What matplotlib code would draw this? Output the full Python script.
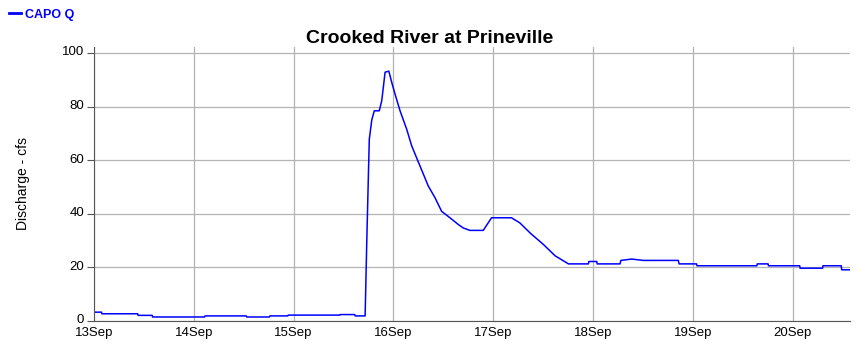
from datetime import datetime, timedelta
import matplotlib
matplotlib.use('Agg')
from matplotlib import pyplot as plt
import matplotlib.dates as mdates
import matplotlib.transforms as mtransforms

# Hours since 13 Sep 00:00 and discharge (cfs)
hours = [0.0, 1.8, 1.9, 10.5, 10.6, 14.0, 14.1, 26.6, 26.7, 36.6, 36.7,
         42.2, 42.3, 46.6, 46.7, 59.1, 59.2, 62.7, 62.8, 65.2,
         65.6, 66.2, 66.8, 67.4, 68.6, 69.2, 70.0, 70.9, 71.6, 72.4,
         73.6, 75.2, 76.4, 78.4, 80.4, 82.0, 83.6, 85.6, 87.6, 88.8,
         90.4, 93.6, 95.6, 100.4, 102.4, 104.9, 108.1, 110.9, 114.1,
         118.9, 119.0, 120.9, 121.0, 126.5, 126.7, 129.3, 132.1, 140.5,
         140.7, 144.9, 145.0, 159.4, 159.5, 162.1, 162.2, 169.7, 169.8,
         175.2, 175.3, 179.7, 179.8, 181.8]
flow = [3.3, 3.3, 2.7, 2.7, 2.1, 2.1, 1.5, 1.5, 1.9, 1.9, 1.5,
        1.5, 1.9, 1.9, 2.2, 2.2, 2.4, 2.4, 1.9, 1.9,
        30.0, 67.8, 75.0, 78.4, 78.4, 82.2, 92.8, 93.2, 89.0, 84.6,
        78.4, 71.5, 65.3, 57.8, 50.3, 46.0, 40.9, 38.5, 36.0, 34.7,
        33.8, 33.8, 38.5, 38.5, 36.6, 32.8, 28.5, 24.3, 21.3,
        21.3, 22.2, 22.2, 21.3, 21.3, 22.6, 23.1, 22.6, 22.6,
        21.3, 21.3, 20.6, 20.6, 21.3, 21.3, 20.6, 20.6, 19.7,
        19.7, 20.6, 20.6, 19.1, 19.1]

start = datetime(2023, 9, 13)
dates = [start + timedelta(hours=h) for h in hours]
day_ticks = [start + timedelta(days=d) for d in range(8)]

plt.rcParams['font.family'] = ['Liberation Sans', 'DejaVu Sans']

fig = plt.figure(figsize=(8.6, 3.46), dpi=100)
ax = fig.add_axes([94 / 860, 25 / 346, 756 / 860, 274 / 346])

ax.plot(dates, flow, c='#0000ff', lw=1.1, label='CAPO Q')

ax.set_xlim(start, start + timedelta(hours=181.8))
ax.set_ylim(0, 102.2)
ax.set_yticks([0, 20, 40, 60, 80, 100])
ax.set_xticks(day_ticks)
ax.xaxis.set_major_formatter(mdates.DateFormatter('%d%b'))

ax.grid(True, color='#b4b4b4', lw=0.9)
ax.set_axisbelow(True)
for side in ['top', 'right']:
    ax.spines[side].set_visible(False)
for side in ['left', 'bottom']:
    ax.spines[side].set_color('#555555')
ax.tick_params(axis='y', length=5, color='#555555', labelsize=9.5, pad=2)
ax.tick_params(axis='x', length=0, labelsize=9.5, pad=4)
ax.set_ylabel('Discharge - cfs', fontsize=10, labelpad=23)

# y labels sit a little above their grid lines in the original
shift = mtransforms.ScaledTranslation(0, 1.5 / 72, fig.dpi_scale_trans)
for lab in ax.get_yticklabels():
    lab.set_transform(lab.get_transform() + shift)

fig.text(0.5, 0.876, 'Crooked River at Prineville', ha='center',
         fontsize=14, fontweight='bold')
leg = fig.legend(loc='upper left', bbox_to_anchor=(0.0, 1.0), frameon=False,
                 handlelength=1.0, handletextpad=0.3, borderpad=0.2,
                 prop={'weight': 'bold', 'size': 9}, labelcolor='#0000ff')
for line in leg.get_lines():
    line.set_linewidth(2.0)

fig.savefig('out.png', dpi=100)
